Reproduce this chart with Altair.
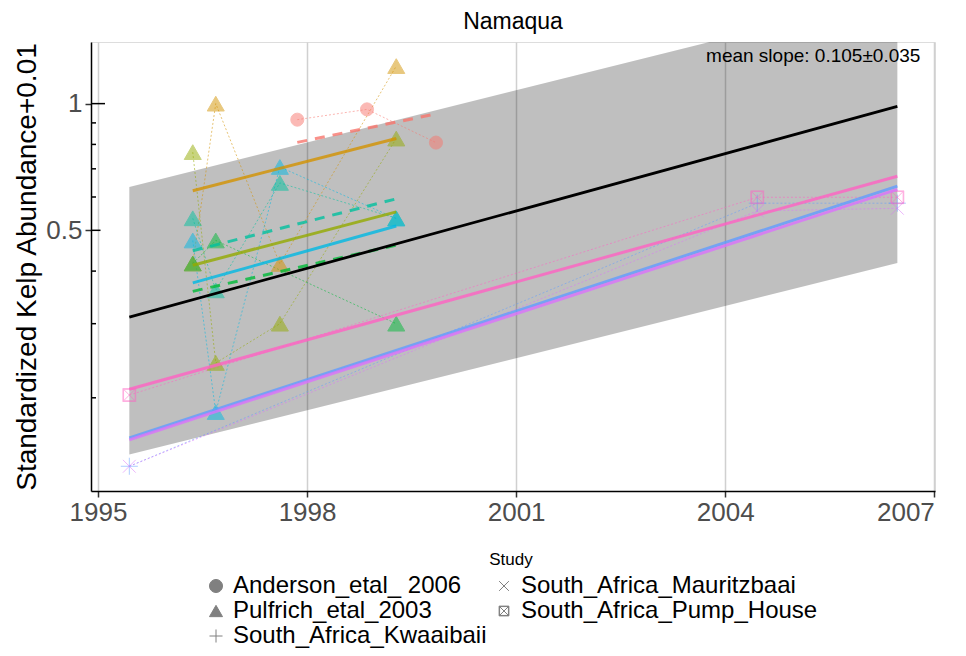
import altair as alt
import pandas as pd

# ---------------- data ----------------
site_names = ["Anderson site", "Pulfrich site 1", "Pulfrich site 2", "Pulfrich site 3",
              "Pulfrich site 4", "Pulfrich site 5", "South_Africa_Kwaaibaii",
              "South_Africa_Mauritzbaai", "South_Africa_Pump_House"]
site_colors = ["#F8766D", "#D39200", "#93AA00", "#00BA38", "#00C19F", "#00B9E3",
               "#619CFF", "#DB72FB", "#FF61C3"]
site_study = ["Anderson_etal_ 2006"] + ["Pulfrich_etal_2003"] * 5 + [
    "South_Africa_Kwaaibaii", "South_Africa_Mauritzbaai", "South_Africa_Pump_House"]

anderson_years = [1997.86, 1998.86, 1999.85]
anderson_values = [0.916, 0.969, 0.808]

pulfrich_years = [1996.36, 1996.69, 1997.61, 1999.28]
pulfrich_1 = [0.417, 1.000, 0.416, 1.228]
pulfrich_2 = [0.767, 0.242, 0.300, 0.826]
pulfrich_3 = [0.417, 0.473, None, 0.300]
pulfrich_4 = [0.534, 0.360, 0.648, 0.534]
pulfrich_5 = [0.473, 0.185, 0.707, 0.533]

sa_years = [1995.45, 2004.46, 2006.47]
kwaaibaii_values = [0.1375, 0.580, 0.580]
mauritzbaai_values = [0.1375, 0.556, 0.564]
pump_house_values = [0.203, 0.599, 0.599]

# fitted site trends
fit_site = site_names
fit_year_start = [1997.86, 1996.36, 1996.36, 1996.36, 1996.36, 1996.36, 1995.45, 1995.45, 1995.45]
fit_year_end = [1999.85, 1999.28, 1999.28, 1999.28, 1999.28, 1999.28, 2006.47, 2006.47, 2006.47]
fit_value_start = [0.809, 0.621, 0.413, 0.358, 0.447, 0.375, 0.1605, 0.1589, 0.2096]
fit_value_end = [0.945, 0.826, 0.553, 0.461, 0.594, 0.512, 0.637, 0.6255, 0.672]
fit_dashed = [True, False, False, True, True, False, False, False, False]

# overall mean trend and band
mean_years = [1995.45, 2006.47]
mean_values = [0.311, 0.985]
band_lower = [0.1466, 0.418]
band_upper = [0.634, 1.811]

slope_label = ["mean slope: 0.105\u00b10.035"]

x_ticks = [1995, 1998, 2001, 2004, 2007]
y_ticks = [0.5, 1]
logtick_values = [0.2, 0.3, 0.4, 0.5, 0.6, 0.7, 0.8, 0.9, 1.0]
logtick_kind = ["short", "short", "short", "mid", "short", "short", "short", "short", "long"]

legend_order = ["Anderson_etal_ 2006", "Pulfrich_etal_2003", "South_Africa_Kwaaibaii",
                "South_Africa_Mauritzbaai", "South_Africa_Pump_House"]

# ---------------- tables ----------------
series = [(site_names[0], anderson_years, anderson_values),
          (site_names[1], pulfrich_years, pulfrich_1),
          (site_names[2], pulfrich_years, pulfrich_2),
          (site_names[3], pulfrich_years, pulfrich_3),
          (site_names[4], pulfrich_years, pulfrich_4),
          (site_names[5], pulfrich_years, pulfrich_5),
          (site_names[6], sa_years, kwaaibaii_values),
          (site_names[7], sa_years, mauritzbaai_values),
          (site_names[8], sa_years, pump_house_values)]
study_of = dict(zip(site_names, site_study))
rows = []
for s, ys, vs in series:
    for y, v in zip(ys, vs):
        if v is not None:
            rows.append({"site": s, "study": study_of[s], "year": y, "value": v})
pts = pd.DataFrame(rows)

fit_rows = []
for s, y0, y1, v0, v1, d in zip(fit_site, fit_year_start, fit_year_end,
                                fit_value_start, fit_value_end, fit_dashed):
    fit_rows.append({"site": s, "year": y0, "value": v0, "dashed": d})
    fit_rows.append({"site": s, "year": y1, "value": v1, "dashed": d})
fits = pd.DataFrame(fit_rows)

band = pd.DataFrame({"year": mean_years, "mean": mean_values,
                     "lower": band_lower, "upper": band_upper})
ticks = pd.DataFrame({"value": logtick_values, "kind": logtick_kind})
label_df = pd.DataFrame({"year": [2006.8], "value": [1.295], "text": slope_label})

FONT = "Liberation Sans"
x_scale = alt.Scale(domain=[1994.9, 2007.01], nice=False, zero=False)
y_scale = alt.Scale(type="log", domain=[0.1201, 1.401], nice=False)
color_scale = alt.Scale(domain=site_names, range=site_colors)

shape_paths = {
    "Anderson_etal_ 2006": "circle",
    "Pulfrich_etal_2003": "triangle-up",
    "South_Africa_Kwaaibaii": "M-1,0L1,0M0,-1L0,1",
    "South_Africa_Mauritzbaai": "M-0.75,-0.75L0.75,0.75M-0.75,0.75L0.75,-0.75",
    "South_Africa_Pump_House": "M-0.75,-0.75L0.75,-0.75L0.75,0.75L-0.75,0.75Z"
                               "M-0.68,-0.68L-0.68,0.68L0.68,0.68L0.68,-0.68Z"
                               "M-0.75,-0.75L0.75,0.75M-0.75,0.75L0.75,-0.75",
}
shape_scale = alt.Scale(domain=legend_order, range=[shape_paths[k] for k in legend_order])

x_axis = alt.Axis(values=x_ticks, format="d", title=None, grid=True, gridColor="#d0d0d0",
                  gridWidth=1.5, labelFontSize=26, labelColor="#4d4d4d", labelFont=FONT,
                  tickColor="#333333", tickSize=6, tickWidth=1.5, domainColor="black",
                  domainWidth=1.5, labelPadding=2)
y_axis = alt.Axis(values=y_ticks, format="~g", title="Standardized Kelp Abundance+0.01",
                  grid=False, labelFontSize=26, labelColor="#4d4d4d", labelFont=FONT,
                  tickColor="#333333", tickSize=6, tickWidth=1.5, domainColor="black",
                  domainWidth=1.5, labelPadding=3, titleFontSize=28, titleFont=FONT,
                  titleFontWeight="normal", titleColor="black", titlePadding=4)

ribbon = alt.Chart(band).mark_area(color="black", opacity=0.25, clip=True).encode(
    x=alt.X("year:Q", scale=x_scale, axis=x_axis),
    y=alt.Y("upper:Q", scale=y_scale, axis=y_axis),
    y2="lower:Q",
)

conn = alt.Chart(pts).mark_line(strokeDash=[2, 2], strokeWidth=0.9, opacity=0.6, clip=True).encode(
    x=alt.X("year:Q", scale=x_scale),
    y=alt.Y("value:Q", scale=y_scale),
    color=alt.Color("site:N", scale=color_scale, legend=None),
    detail="site:N",
    order="year:Q",
)

legend = alt.Legend(title="Study", orient="none", legendX=113, legendY=510,
                    columns=2, titleFontSize=17, titleFont=FONT,
                    titleFontWeight="normal", titleColor="black",
                    titleAnchor="middle", titlePadding=5, labelLimit=500,
                    labelFontSize=24, labelFont=FONT, labelColor="black",
                    labelOffset=5, symbolSize=170, symbolFillColor="#808080",
                    symbolStrokeColor="#808080", symbolStrokeWidth=1,
                    symbolOpacity=1, rowPadding=1, columnPadding=5)


def point_layer(keep_circles, size, with_legend):
    flt = (alt.datum.study == legend_order[0]) if keep_circles else (alt.datum.study != legend_order[0])
    return alt.Chart(pts).transform_filter(flt).mark_point(
        filled=True, opacity=0.5, strokeWidth=1, size=size).encode(
        x=alt.X("year:Q", scale=x_scale),
        y=alt.Y("value:Q", scale=y_scale),
        color=alt.Color("site:N", scale=color_scale, legend=None),
        stroke=alt.Stroke("site:N", scale=color_scale, legend=None),
        shape=alt.Shape("study:N", scale=shape_scale,
                        legend=legend if with_legend else None),
    )


points_circ = point_layer(True, 170, True)
points_rest = point_layer(False, 290, False)

fit_solid = alt.Chart(fits).transform_filter(~alt.datum.dashed).mark_line(
    strokeWidth=3, opacity=0.8).encode(
    x=alt.X("year:Q", scale=x_scale),
    y=alt.Y("value:Q", scale=y_scale),
    color=alt.Color("site:N", scale=color_scale, legend=None),
    detail="site:N",
)
fit_dash = alt.Chart(fits).transform_filter(alt.datum.dashed).mark_line(
    strokeWidth=3, opacity=0.8, strokeDash=[10, 8]).encode(
    x=alt.X("year:Q", scale=x_scale),
    y=alt.Y("value:Q", scale=y_scale),
    color=alt.Color("site:N", scale=color_scale, legend=None),
    detail="site:N",
)

mean_line = alt.Chart(band).mark_line(color="black", strokeWidth=2.8).encode(
    x=alt.X("year:Q", scale=x_scale),
    y=alt.Y("mean:Q", scale=y_scale),
)

tick_layers = []
for kind, length in [("short", 5), ("mid", 9.5), ("long", 14)]:
    tick_layers.append(
        alt.Chart(ticks).transform_filter(alt.datum.kind == kind).mark_rule(
            color="black", strokeWidth=1.5).encode(
            y=alt.Y("value:Q", scale=y_scale),
            x=alt.value(0), x2=alt.value(length))
    )

label = alt.Chart(label_df).mark_text(align="right", baseline="middle", fontSize=19,
                                      font=FONT, color="black").encode(
    x=alt.X("year:Q", scale=x_scale),
    y=alt.Y("value:Q", scale=y_scale),
    text="text:N",
)

chart = alt.layer(ribbon, conn, points_circ, points_rest, fit_solid, fit_dash, mean_line,
                  *tick_layers, label).properties(
    width=844, height=449,
    title=alt.TitleParams("Namaqua", fontSize=23, font=FONT, fontWeight="normal",
                          anchor="middle", offset=8, color="black"),
    autosize=alt.AutoSizeParams(type="none"),
    padding={"left": 83, "top": 34, "right": 23, "bottom": 157},
).configure_view(
    stroke="black", strokeWidth=1.5
).configure(font=FONT)

chart.save("out.html", embed_options={"renderer": "svg", "actions": False})
